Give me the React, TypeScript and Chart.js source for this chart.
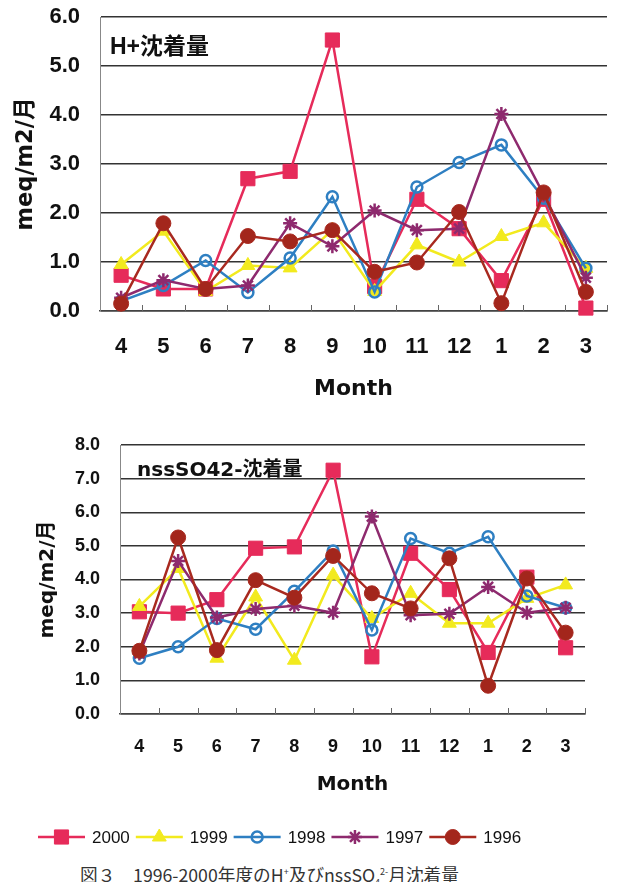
import React, { useEffect, useRef } from 'react';
import { Chart, registerables } from 'chart.js';
import { drawPoint } from 'chart.js/helpers';

Chart.register(...registerables);

// ---- data ----
const months = ['4', '5', '6', '7', '8', '9', '10', '11', '12', '1', '2', '3'];
const seriesNames = ['2000', '1999', '1998', '1997', '1996'];

// H+ deposition (meq/m2/month)
const h2000 = [0.73, 0.45, 0.45, 2.7, 2.85, 5.53, 0.5, 2.28, 1.68, 0.62, 2.28, 0.06];
const h1999 = [0.95, 1.63, 0.4, 0.93, 0.88, 1.65, 0.4, 1.35, 1.0, 1.52, 1.8, 0.87];
const h1998 = [0.2, 0.52, 1.03, 0.38, 1.08, 2.33, 0.39, 2.53, 3.03, 3.39, 2.3, 0.87];
const h1997 = [0.27, 0.63, 0.45, 0.52, 1.79, 1.32, 2.05, 1.65, 1.68, 4.02, 2.38, 0.68];
const h1996 = [0.15, 1.79, 0.45, 1.53, 1.42, 1.65, 0.8, 0.99, 2.02, 0.16, 2.42, 0.39];

// nssSO4 2- deposition (meq/m2/month)
const s2000 = [3.04, 3.0, 3.4, 4.93, 4.97, 7.25, 1.7, 4.78, 3.7, 1.83, 4.07, 1.97];
const s1999 = [3.2, 4.33, 1.66, 3.48, 1.6, 4.13, 2.84, 3.59, 2.7, 2.7, 3.44, 3.84];
const s1998 = [1.66, 2.0, 2.84, 2.52, 3.65, 4.85, 2.5, 5.22, 4.78, 5.27, 3.51, 3.16];
const s1997 = [1.8, 4.55, 2.87, 3.12, 3.22, 3.01, 5.87, 2.94, 2.98, 3.78, 3.01, 3.16];
const s1996 = [1.88, 5.25, 1.9, 3.98, 3.46, 4.7, 3.59, 3.14, 4.63, 0.84, 4.03, 2.42];

const hTitle = 'H+沈着量';
const sTitle = 'nssSO42-沈着量';
const yTitle = 'meq/m2/月';
const xTitle = 'Month';

// ---- styles ----
const lineColors = ['#e62b5a', '#f2ea1e', '#2e7fc2', '#8e2a6e', '#a8291f'];
const pointFills = ['#e62b5a', '#f2ea1e', 'rgba(0,0,0,0)', '#8e2a6e', '#a3261c'];
const pointStyles = ['rect', 'triangle', 'circle', 'star', 'circle'];
const pointRadii = [10, 8, 5.5, 7, 7.5];
const pointBorderWidths = [1, 1, 2.5, 2.5, 1];

function makeDatasets(values: number[][]) {
  return seriesNames.map((name, i) => ({
    label: name,
    data: values[i],
    borderColor: lineColors[i],
    backgroundColor: pointFills[i],
    pointBackgroundColor: pointFills[i],
    pointBorderColor: lineColors[i],
    pointStyle: pointStyles[i] as any,
    pointRadius: pointRadii[i],
    pointBorderWidth: pointBorderWidths[i],
    borderWidth: 2.5,
    tension: 0,
    order: 5 - i,
    clip: false as any,
  }));
}

const innerTicks = {
  id: 'innerTicks',
  beforeDatasetsDraw(chart: any) {
    const xs = chart.scales.x;
    const { ctx, chartArea } = chart;
    ctx.save();
    ctx.strokeStyle = '#666';
    ctx.lineWidth = 1;
    const n = xs.ticks.length;
    for (let i = 1; i <= n; i++) {
      const x = i < n ? (xs.getPixelForValue(i - 1) + xs.getPixelForValue(i)) / 2 : chartArea.right;
      const px = Math.round(x) + 0.5;
      ctx.beginPath();
      ctx.moveTo(px, chartArea.bottom);
      ctx.lineTo(px, chartArea.bottom - 6);
      ctx.stroke();
    }
    ctx.restore();
  },
};

const sharedLegend = {
  id: 'sharedLegend',
  afterDraw(chart: any, _args: any, opts: any) {
    if (!opts || !opts.show) return;
    const { ctx } = chart;
    ctx.save();
    ctx.font = '17px "Liberation Sans", Arial, sans-serif';
    ctx.textBaseline = 'middle';
    ctx.textAlign = 'left';
    let x = opts.x;
    const y = opts.y;
    chart.data.datasets.forEach((ds: any) => {
      ctx.strokeStyle = ds.borderColor;
      ctx.lineWidth = 2.5;
      ctx.beginPath();
      ctx.moveTo(x, y);
      ctx.lineTo(x + 47, y);
      ctx.stroke();
      ctx.fillStyle = ds.pointBackgroundColor;
      ctx.strokeStyle = ds.pointBorderColor;
      ctx.lineWidth = ds.pointBorderWidth;
      drawPoint(ctx, { pointStyle: ds.pointStyle, radius: ds.pointRadius, rotation: 0, borderWidth: ds.pointBorderWidth } as any, x + 23.5, y);
      ctx.fillStyle = '#111';
      ctx.fillText(ds.label, x + 54, y + 1);
      x += 54 + ctx.measureText(ds.label).width + 6;
    });
    ctx.restore();
  },
};

interface Cfg {
  values: number[][];
  yMax: number;
  tickSize: number;
  yTitleSize: number;
  yTitlePad: number;
  yWidth: number;
  yPad: number;
  xTitleSize: number;
  xTickPad: number;
  xTitlePadBottom: number;
  xHeight: number;
  padTop: number;
  padRight: number;
  legend?: { x: number; y: number };
}

const CLEAR = 'rgba(0,0,0,0)';

function buildChart(canvas: HTMLCanvasElement, c: Cfg) {
  return new Chart(canvas, {
    type: 'line',
    data: { labels: months, datasets: makeDatasets(c.values) as any },
    plugins: [innerTicks, sharedLegend],
    options: {
      responsive: false,
      animation: false,
      devicePixelRatio: 1,
      layout: { padding: { top: c.padTop, right: c.padRight, left: 0, bottom: 0 } },
      plugins: {
        legend: { display: false },
        tooltip: { enabled: false },
        sharedLegend: c.legend ? { show: true, x: c.legend.x, y: c.legend.y } : { show: false },
      } as any,
      scales: {
        x: {
          offset: true,
          grid: { display: false, drawTicks: true, tickLength: c.xTickPad, tickColor: CLEAR },
          border: { display: true, color: '#444', width: 1.5 },
          ticks: {
            autoSkip: false,
            maxRotation: 0,
            padding: 0,
            color: '#111',
            font: { family: '"Liberation Sans", Arial, sans-serif', size: c.tickSize, weight: 'bold' },
          },
          title: {
            display: true,
            text: xTitle,
            color: '#111',
            font: { family: '"DejaVu Sans", sans-serif', size: c.xTitleSize, weight: 'bold' },
            padding: { top: 0, bottom: c.xTitlePadBottom },
          },
          afterFit: (s: any) => {
            s.height = c.xHeight;
          },
        },
        y: {
          min: 0,
          max: c.yMax,
          grid: { color: '#333', lineWidth: 1.5, drawTicks: true, tickLength: c.yPad, tickColor: CLEAR },
          border: { display: true, color: '#888', width: 1 },
          ticks: {
            stepSize: 1,
            padding: 0,
            color: '#111',
            callback: (v: any) => Number(v).toFixed(1),
            font: { family: '"Liberation Sans", Arial, sans-serif', size: c.tickSize, weight: 'bold' },
          },
          title: {
            display: true,
            text: yTitle,
            color: '#111',
            font: { family: '"DejaVu Sans", "Noto Sans CJK JP", sans-serif', size: c.yTitleSize, weight: 'bold' },
            padding: { top: c.yTitlePad, bottom: 0 },
          },
          afterFit: (s: any) => {
            s.width = c.yWidth;
          },
        },
      },
    } as any,
  });
}

export default function App() {
  const topRef = useRef<HTMLCanvasElement>(null);
  const botRef = useRef<HTMLCanvasElement>(null);

  useEffect(() => {
    const top = buildChart(topRef.current!, {
      values: [h2000, h1999, h1998, h1997, h1996],
      yMax: 6,
      tickSize: 22,
      yTitleSize: 22.5,
      yTitlePad: 13,
      yWidth: 100,
      yPad: 20,
      xTitleSize: 22,
      xTickPad: 23,
      xTitlePadBottom: 3,
      xHeight: 94,
      padTop: 17,
      padRight: 5,
    });
    const bot = buildChart(botRef.current!, {
      values: [s2000, s1999, s1998, s1997, s1996],
      yMax: 8,
      tickSize: 18,
      yTitleSize: 20,
      yTitlePad: 36,
      yWidth: 120,
      yPad: 20,
      xTitleSize: 20,
      xTickPad: 22,
      xTitlePadBottom: 53,
      xHeight: 136,
      padTop: 40,
      padRight: 33,
      legend: { x: 38, y: 432 },
    });
    return () => {
      top.destroy();
      bot.destroy();
    };
  }, []);

  return (
    <div style={{ position: 'fixed', left: 0, top: 0, width: 618, height: 882, background: '#fff', overflow: 'hidden' }}>
      <canvas ref={topRef} width={618} height={405} style={{ position: 'absolute', left: 0, top: 0 }} />
      <canvas ref={botRef} width={618} height={445} style={{ position: 'absolute', left: 0, top: 405 }} />
      <div
        style={{
          position: 'absolute',
          left: 110,
          top: 34,
          font: 'bold 23px "Liberation Sans", "Noto Sans CJK JP", sans-serif',
          lineHeight: '24px',
          color: '#111',
          whiteSpace: 'nowrap',
        }}
      >
        {hTitle}
      </div>
      <div
        style={{
          position: 'absolute',
          left: 137,
          top: 458,
          font: 'bold 20px "DejaVu Sans", "Noto Sans CJK JP", sans-serif',
          lineHeight: '22px',
          color: '#111',
          whiteSpace: 'nowrap',
        }}
      >
        {sTitle}
      </div>
      <div
        style={{
          position: 'absolute',
          left: 80,
          top: 862,
          font: '17.7px "Noto Sans CJK JP", sans-serif',
          lineHeight: '20px',
          color: '#333',
          whiteSpace: 'nowrap',
        }}
      >
        図３　1996-2000年度のH<sup style={{ fontSize: 9 }}>+</sup>及びnssSO<sub style={{ fontSize: 9 }}>4</sub>
        <sup style={{ fontSize: 9 }}>2-</sup>月沈着量
      </div>
    </div>
  );
}
